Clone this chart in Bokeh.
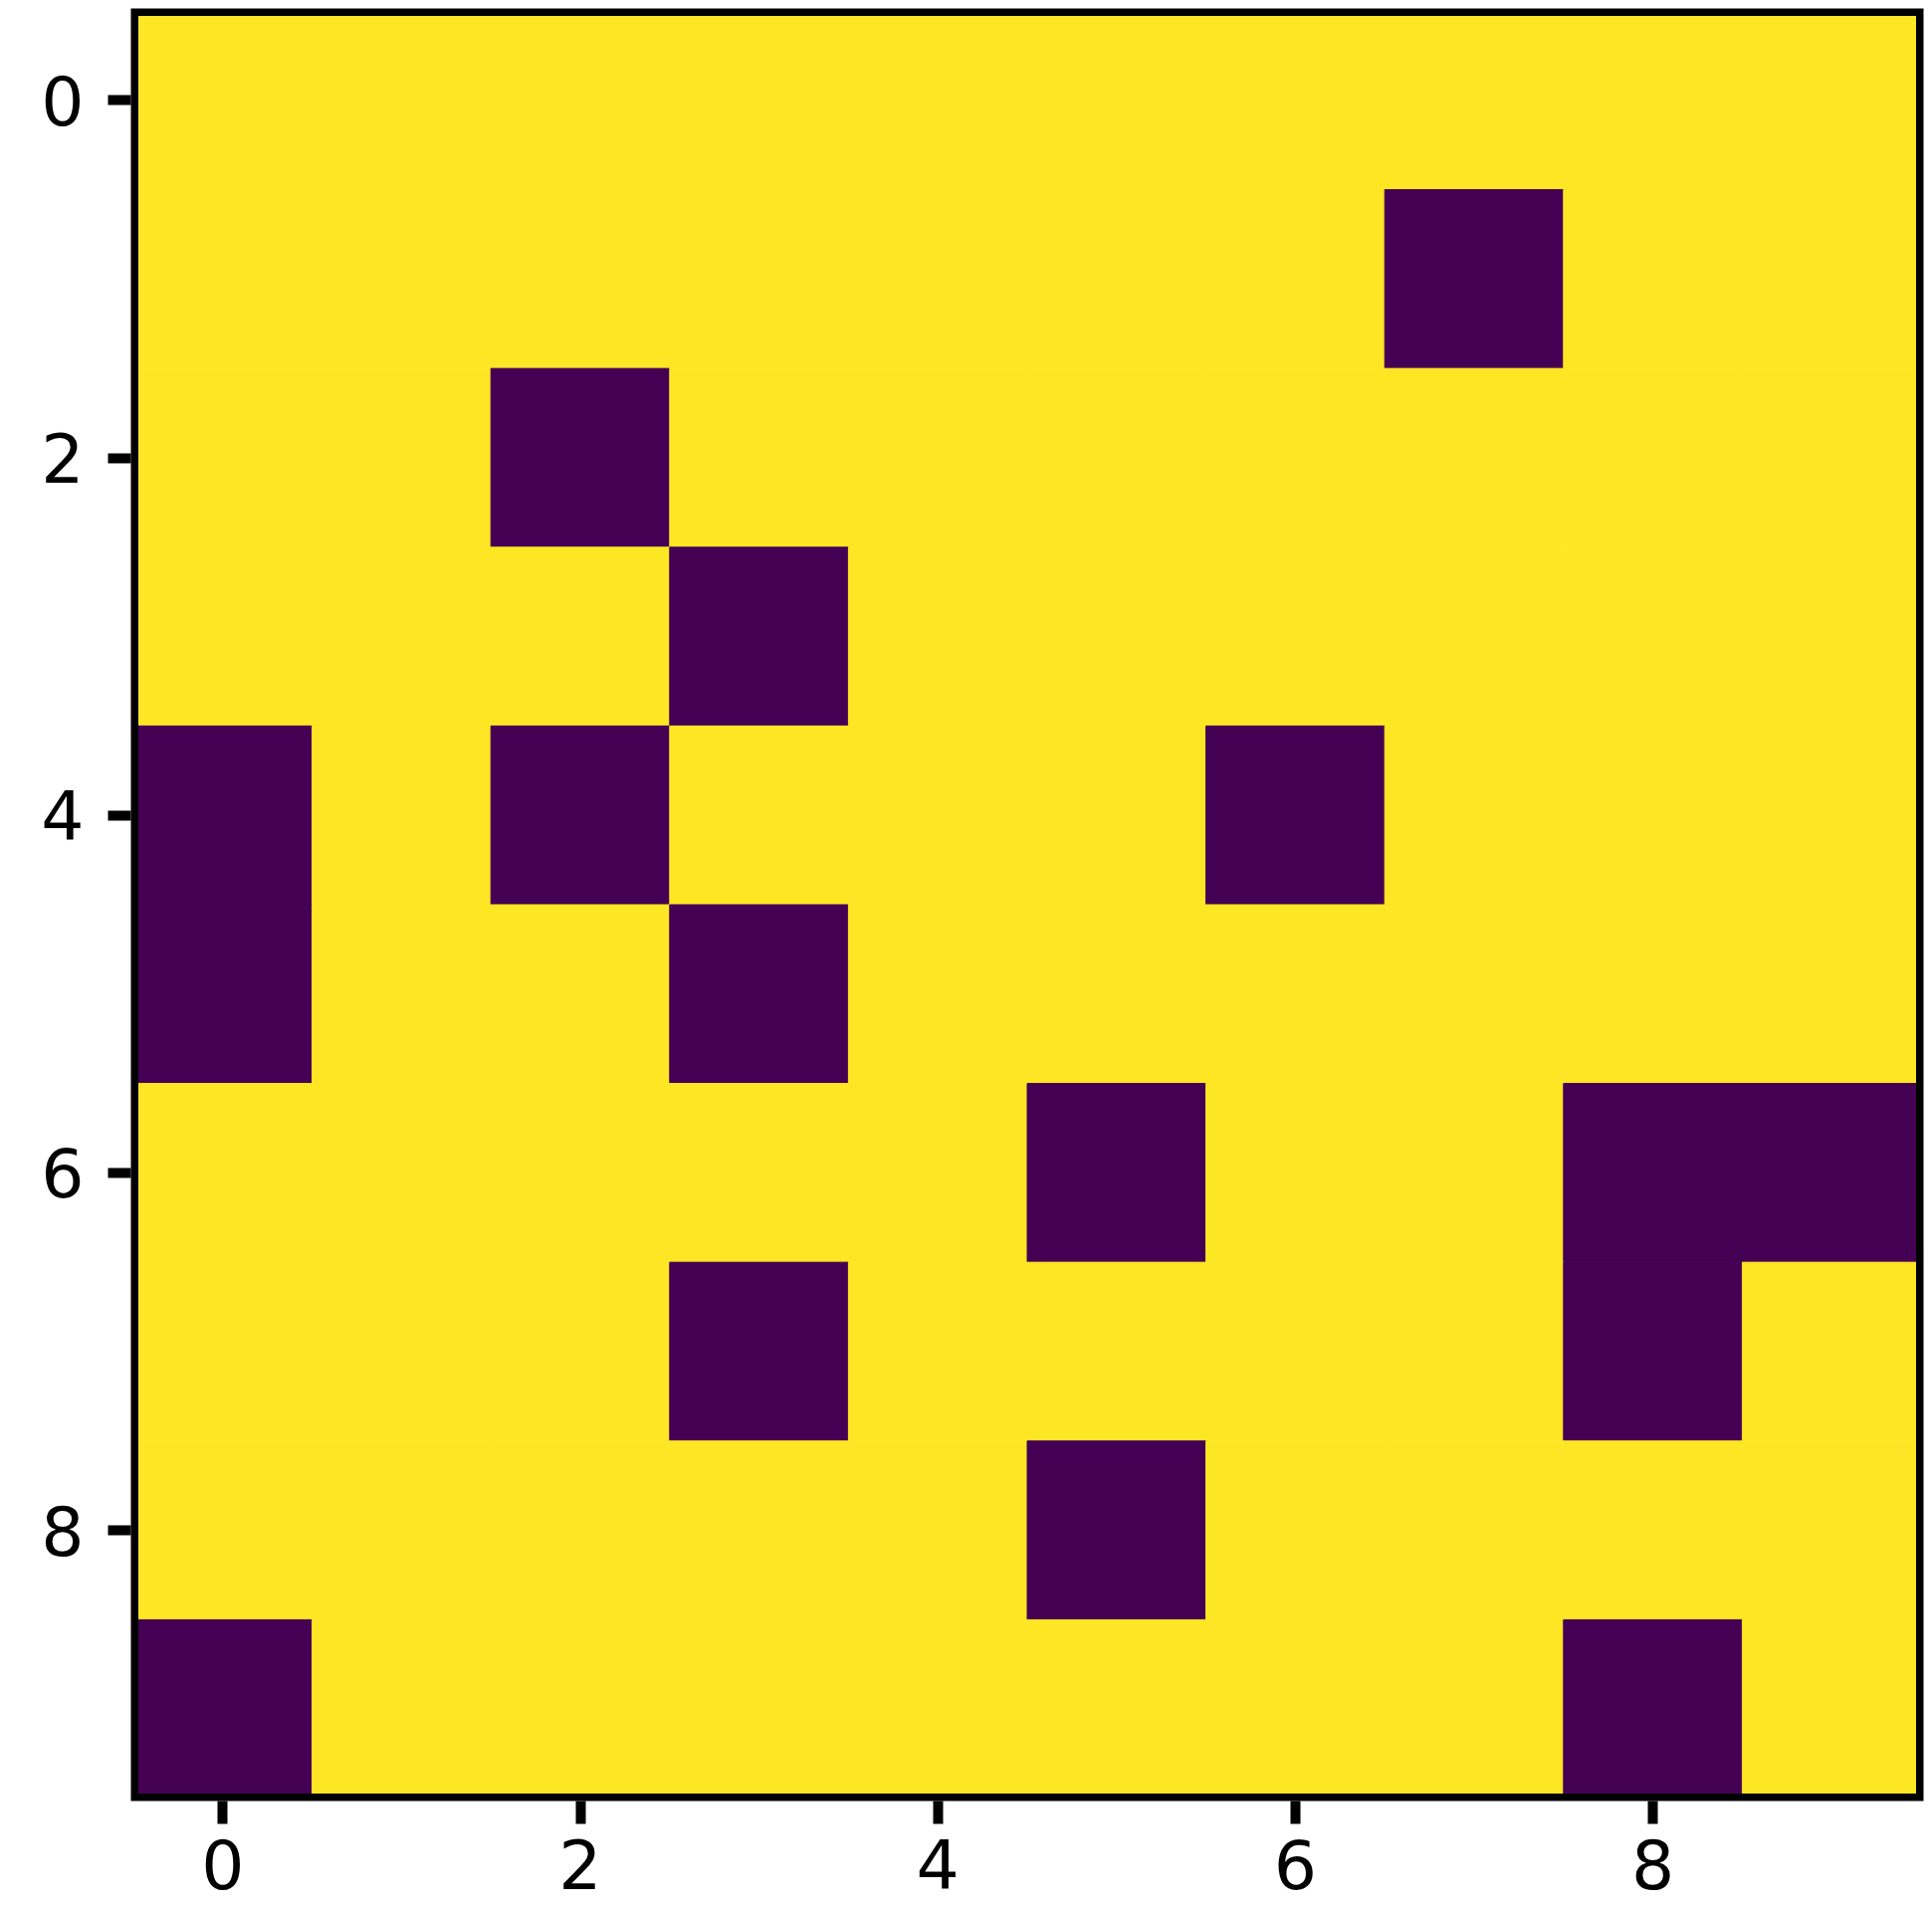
from bokeh.plotting import figure
from bokeh.models import Range1d, FixedTicker, ColumnDataSource
from bokeh.embed import file_html
from bokeh.resources import INLINE

# 10x10 binary grid (row 0 at top), 0 = purple, 1 = yellow
grid = [
    [1, 1, 1, 1, 1, 1, 1, 1, 1, 1],
    [1, 1, 1, 1, 1, 1, 1, 0, 1, 1],
    [1, 1, 0, 1, 1, 1, 1, 1, 1, 1],
    [1, 1, 1, 0, 1, 1, 1, 1, 1, 1],
    [0, 1, 0, 1, 1, 1, 0, 1, 1, 1],
    [0, 1, 1, 0, 1, 1, 1, 1, 1, 1],
    [1, 1, 1, 1, 1, 0, 1, 1, 0, 0],
    [1, 1, 1, 0, 1, 1, 1, 1, 0, 1],
    [1, 1, 1, 1, 1, 0, 1, 1, 1, 1],
    [0, 1, 1, 1, 1, 1, 1, 1, 0, 1],
]
palette = ["#440154", "#fde725"]
ticks = [0, 2, 4, 6, 8]

xs, ys, cs = [], [], []
for r, row in enumerate(grid):
    for c, v in enumerate(row):
        xs.append(c)
        ys.append(r)
        cs.append(palette[v])
src = ColumnDataSource(dict(x=xs, y=ys, color=cs))

n_rows, n_cols = len(grid), len(grid[0])
FRAME = 1801
BORDER = 5
pad = (BORDER / 2) / ((FRAME - BORDER) / n_cols)   # half spine width in data units

x0, x1 = -0.5, n_cols - 0.5
y0, y1 = -0.5, n_rows - 0.5
xr = Range1d(x0 - pad, x1 + pad)
yr = Range1d(y1 + pad, y0 - pad)

p = figure(frame_width=FRAME, frame_height=FRAME,
           x_range=xr, y_range=yr,
           output_backend="svg", toolbar_location=None,
           min_border_left=131, min_border_right=4,
           min_border_top=8, min_border_bottom=107)

p.rect(x="x", y="y", width=1, height=1, source=src,
       fill_color="color", line_color="color", line_width=1)

# spine around the image extent
p.quad(left=[x0], right=[x1], top=[y0], bottom=[y1],
       fill_color=None, line_color="black", line_width=2 * BORDER,
       line_join="miter")

p.grid.visible = False
p.outline_line_color = None
p.background_fill_color = "white"
p.border_fill_color = "white"

for ax in (p.xaxis[0], p.yaxis[0]):
    ax.ticker = FixedTicker(ticks=ticks)
    ax.axis_line_color = None
    ax.major_tick_out = 23
    ax.major_tick_in = 0
    ax.major_tick_line_width = 10
    ax.major_tick_line_color = "black"
    ax.minor_tick_line_color = None
    ax.major_label_text_font = "DejaVu Sans"
    ax.major_label_text_font_size = "68px"
    ax.major_label_text_color = "black"

p.xaxis[0].major_label_standoff = 15
p.yaxis[0].major_label_standoff = 24

open("out.html", "w").write(file_html(p, INLINE))
